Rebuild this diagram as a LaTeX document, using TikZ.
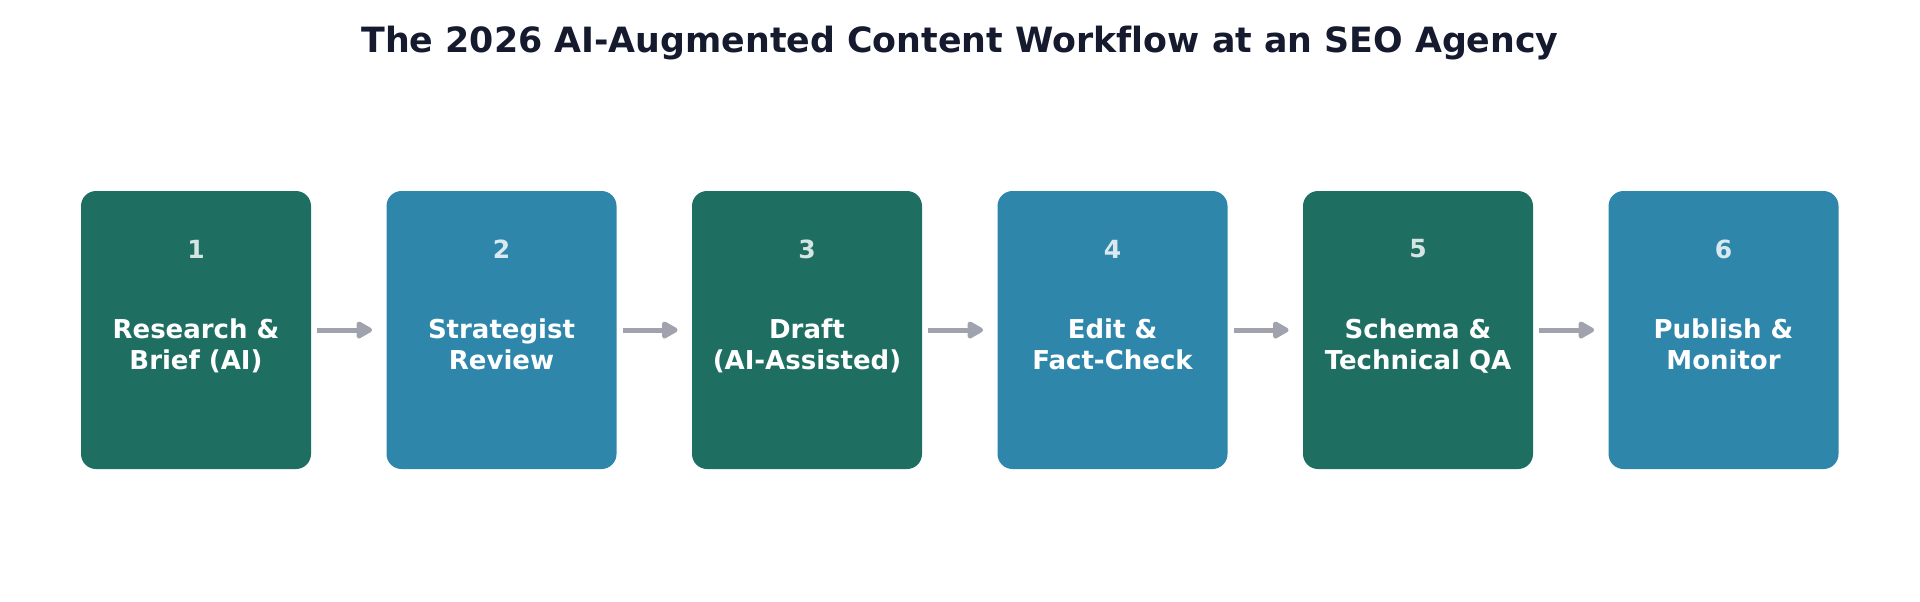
\documentclass[tikz,border=0pt]{standalone}
\usepackage{fontspec}
\setmainfont{DejaVu Sans}[Ligatures=NoCommon]
\usepackage{xcolor}
\usetikzlibrary{positioning,calc,arrows.meta}

\definecolor{stepgreen}{HTML}{1E6F62}
\definecolor{stepblue}{HTML}{2E86AB}
\definecolor{arrowgray}{HTML}{A0A3AE}
\definecolor{titlenavy}{HTML}{161A2E}

\tikzset{
  stepbox/.style={rounded corners=7.5pt, minimum width=115pt, minimum height=139pt, inner sep=0pt},
  stepnum/.style={text=white, text opacity=0.82, font=\bfseries\fontsize{12.5}{15}\selectfont},
  steptext/.style={text=white, align=center, font=\bfseries\fontsize{13}{15.5}\selectfont},
  flow/.style={arrowgray, line width=2.5pt, -{Triangle[length=9pt,width=9.5pt,round]}, shorten <=3pt, shorten >=7pt}
}

\begin{document}
\begin{tikzpicture}[x=0.5pt, y=-0.5pt]
    \useasboundingbox (0,0) rectangle (1920,601);

    \node[text=titlenavy, font=\bfseries\fontsize{17.4}{20}\selectfont] (title) at (960,43) {The 2026 AI-Augmented Content Workflow at an SEO Agency};

    % Boxes
    \node[stepbox, fill=stepgreen] (s1) at (196,330) {};
    \node[stepbox, fill=stepblue]  (s2) at (501.5,330) {};
    \node[stepbox, fill=stepgreen] (s3) at (807,330) {};
    \node[stepbox, fill=stepblue]  (s4) at (1112.5,330) {};
    \node[stepbox, fill=stepgreen] (s5) at (1418,330) {};
    \node[stepbox, fill=stepblue]  (s6) at (1723.5,330) {};

    % Numbers and labels
    \foreach \i/\txt in {1/{Research \&\\\strut Brief (AI)}, 2/{Strategist\\\strut Review}, 3/{Draft\\\strut (AI-Assisted)},
                         4/{Edit \&\\\strut Fact-Check}, 5/{Schema \&\\\strut Technical QA}, 6/{Publish \&\\\strut Monitor}} {
        \node[stepnum] (n\i) at ($(s\i.center)+(0,-81)$) {\i};
        \node[steptext] (t\i) at ($(s\i.center)+(0,17.5)$) {\strut\txt};
    }

    % Arrows
    \foreach \a/\b in {s1/s2, s2/s3, s3/s4, s4/s5, s5/s6}
        \draw[flow] (\a.east) -- (\b.west);
\end{tikzpicture}
\end{document}
